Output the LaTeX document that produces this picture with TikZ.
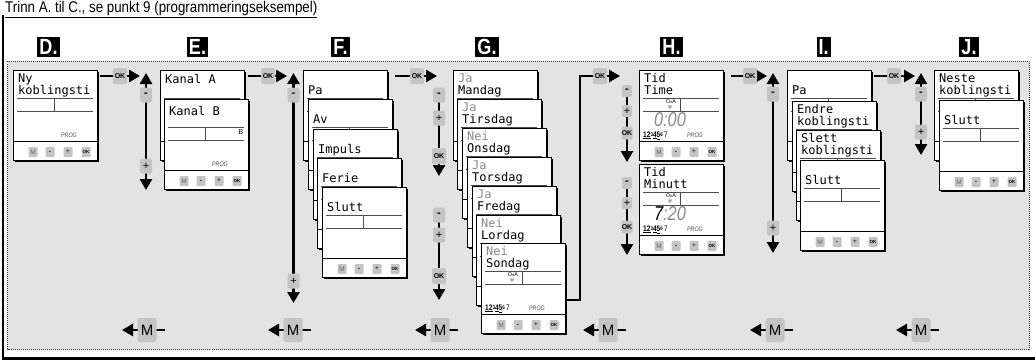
\documentclass[tikz,border=0pt]{standalone}
\usepackage{fontspec}
\setmainfont{Liberation Sans}
\newfontfamily\narrowfont[FakeStretch=0.82]{Liberation Sans}
\newfontfamily\titlefont[FakeStretch=0.86]{Liberation Sans}
\newfontfamily\lcdfont{DejaVu Sans Mono}
\newfontfamily\symfont{DejaVu Sans}
\usepackage{tikz}
\usetikzlibrary{arrows.meta,positioning,calc,shadows}

\definecolor{panelgray}{HTML}{E3E3E3}
\definecolor{keygray}{HTML}{C4C4C4}
\definecolor{dimgray}{HTML}{8A8A8A}

% display: name, left, top
\newcommand{\lcd}[3]{%
  \node[lcdbox] (#1) at (#2,#3) {};
  \draw[lcdrule] ($(#1.north west)+(4,28)$) -- ($(#1.north east)+(-5,28)$);
  \draw[lcdrule] ($(#1.north west)+(4,41)$) -- ($(#1.north east)+(-5,41)$);
  \draw[lcdrule] ($(#1.north west)+(41,28)$) -- ($(#1.north west)+(41,41)$);
  \draw[line width=0.9pt] ($(#1.north west)+(0,71)$) -- ($(#1.north east)+(0,71)$);
}
% keys of the front display
\newcommand{\lcdkeys}[1]{%
  \node[lcdkey,text=black!60] (#1-m) at ($(#1.north west)+(20,82)$) {M};
  \node[lcdkey] (#1-minus) at ($(#1.north west)+(37,82)$) {\textbf{-}};
  \node[lcdkey] (#1-plus) at ($(#1.north west)+(55,82)$) {+};
  \node[lcdkey,font=\fontsize{4.5}{4.5}\selectfont\bfseries] (#1-ok) at ($(#1.north west)+(73,82)$) {OK};
}
\newcommand{\lcdone}[3]{%
  \node[lcdtxt] (#1-a) at ($(#1.north west)+(5,#2)$) {#3};
}
\newcommand{\lcdtwo}[3]{%
  \node[lcdtxt] (#1-a) at ($(#1.north west)+(5,12)$) {#2};
  \node[lcdtxt] (#1-b) at ($(#1.north west)+(5,24)$) {#3};
}
\newcommand{\lcdprog}[1]{%
  \node[inner sep=0pt,font=\narrowfont\itshape\fontsize{6.5}{6.5}\selectfont,text=black!70] (#1-prog) at ($(#1.north west)+(56,65)$) {PROG};
}
\newcommand{\lcddays}[1]{%
  \node[inner sep=0pt,anchor=west,font=\narrowfont\bfseries\fontsize{8}{8}\selectfont] (#1-days) at ($(#1.north west)+(4,65.5)$)
    {\underline{1}\underline{2}\raisebox{1pt}{\fontsize{5.5}{5.5}\selectfont 3}\underline{4}\underline{5}\raisebox{1pt}{\fontsize{5.5}{5.5}\selectfont 6}\,{\mdseries 7}};
}
\newcommand{\lcdsun}[1]{%
  \node[inner sep=0pt,font=\fontsize{5.5}{5.5}\selectfont] (#1-ona) at ($(#1.north west)+(32,32)$) {O{\fontsize{4}{4}\selectfont n}A};
  \node[inner sep=0pt,font=\symfont\fontsize{6}{6}\selectfont] (#1-sun) at ($(#1.north west)+(31,37.5)$) {☼};
}
\newcommand{\mback}[2]{%
  \coordinate (#1-a) at (#2+18,330);
  \coordinate (#1-b) at (#2-25,330);
  \draw[conn,->] (#1-a) -- (#1-b);
  \node[mkey] (#1) at (#2,330) {M};
}

\begin{document}
\begin{tikzpicture}[x=1pt,y=-1pt,>={Triangle[width=12pt,length=11pt]},
  lcdbox/.style={draw,line width=0.8pt,fill=white,anchor=north west,inner sep=0pt,
    minimum width=84pt,minimum height=90pt,
    drop shadow={shadow xshift=1.6pt,shadow yshift=-1.6pt,fill=black,opacity=1}},
  lcdrule/.style={draw=black!70,line width=0.9pt},
  lcdtxt/.style={anchor=base west,inner sep=0pt,font=\lcdfont\fontsize{12}{12}\selectfont},
  lcdkey/.style={fill=keygray,rounded corners=1pt,minimum width=9pt,minimum height=10pt,inner sep=0pt,
    font=\fontsize{6.5}{6.5}\selectfont},
  ctlkey/.style={fill=keygray,rounded corners=2pt,minimum width=12pt,minimum height=15pt,inner sep=0pt,
    font=\fontsize{11}{11}\selectfont},
  okkey/.style={ctlkey,minimum width=14pt,minimum height=16pt,font=\fontsize{7}{7}\selectfont\bfseries},
  mkey/.style={fill=keygray,rounded corners=2.5pt,minimum width=19pt,minimum height=24pt,inner sep=0pt,
    font=\fontsize{15}{15}\selectfont},
  tag/.style={fill=black,text=white,inner sep=2pt,minimum height=20pt,
    font=\narrowfont\bfseries\fontsize{22}{22}\selectfont},
  bigdigits/.style={inner sep=0pt,font=\narrowfont\itshape\fontsize{20}{20}\selectfont},
  conn/.style={line width=2.6pt}]
\useasboundingbox (0,0) rectangle (1035,361);

\node[anchor=base west,inner sep=0pt,font=\titlefont\fontsize{15.5}{15.5}\selectfont] (title) at (5,13)
  {\underline{Trinn A. til C., se punkt 9 (programmeringseksempel)}};
\draw[line width=2pt] (2.5,15) -- (2.5,358.5);
\draw[line width=2.6pt] (1.5,358.5) -- (1035,358.5);
\draw[fill=panelgray,draw=black!80,line width=0.7pt,dash pattern=on 0.8pt off 1.2pt] (7.5,61.5) rectangle (1029.5,349.5);

\node[tag] (tD) at (48.5,47) {D.};
\node[tag] (tE) at (197.5,47) {E.};
\node[tag] (tF) at (340.5,47) {F.};
\node[tag] (tG) at (487,47) {G.};
\node[tag] (tH) at (671.5,47) {H.};
\node[tag] (tI) at (823.5,47) {I.};
\node[tag] (tJ) at (969,47) {J.};

% D
\lcd{d}{13}{70}
\lcdtwo{d}{Ny}{koblingsti}
\lcdprog{d}
\lcdkeys{d}

% E
\lcd{ea}{160}{70}
\lcdone{ea}{13}{Kanal A}
\lcd{eb}{164}{99}
\lcdone{eb}{16}{Kanal B}
\node[inner sep=0pt,font=\fontsize{7}{7}\selectfont] (eb-ch) at ($(eb.north west)+(77,33)$) {B};
\lcdprog{eb}
\lcdkeys{eb}

% F
\lcd{f1}{303}{70}
\lcdone{f1}{24}{Pa}
\lcd{f2}{308}{99}
\lcdone{f2}{24}{Av}
\lcd{f3}{313}{129}
\lcdone{f3}{24}{Impuls}
\lcd{f4}{317}{158}
\lcdone{f4}{24}{Ferie}
\lcd{f5}{322}{187}
\lcdone{f5}{24}{Slutt}
\lcdkeys{f5}

% G
\lcd{g1}{453}{70}
\lcdtwo{g1}{\color{dimgray}Ja}{Mandag}
\lcd{g2}{457}{99}
\lcdtwo{g2}{\color{dimgray}Ja}{Tirsdag}
\lcd{g3}{462}{128}
\lcdtwo{g3}{\color{dimgray}Nei}{Onsdag}
\lcd{g4}{467}{157}
\lcdtwo{g4}{\color{dimgray}Ja}{Torsdag}
\lcd{g5}{472}{186}
\lcdtwo{g5}{\color{dimgray}Ja}{Fredag}
\lcd{g6}{476}{215}
\lcdtwo{g6}{\color{dimgray}Nei}{Lordag}
\lcd{g7}{481}{243}
\lcdtwo{g7}{\color{dimgray}Nei}{Sondag}
\lcdsun{g7}
\lcddays{g7}
\lcdprog{g7}
\lcdkeys{g7}

% H
\lcd{h1}{639}{70}
\lcdtwo{h1}{Tid}{Time}
\lcdsun{h1}
\node[bigdigits,text=dimgray] (h1-time) at ($(h1.north west)+(31,50)$) {0:00};
\lcddays{h1}
\lcdprog{h1}
\lcdkeys{h1}
\lcd{h2}{639}{164}
\lcdtwo{h2}{Tid}{Minutt}
\lcdsun{h2}
\node[bigdigits] (h2-time) at ($(h2.north west)+(31,50)$) {7{\color{dimgray}:20}};
\lcddays{h2}
\lcdprog{h2}
\lcdkeys{h2}

% I
\lcd{i1}{787}{70}
\lcdone{i1}{24}{Pa}
\lcd{i2}{792}{101}
\lcdtwo{i2}{Endre}{koblingsti}
\lcd{i3}{796}{130}
\lcdtwo{i3}{Slett}{koblingsti}
\lcd{i4}{800}{160}
\lcdone{i4}{24}{Slutt}
\lcdkeys{i4}

% J
\lcd{j1}{934}{70}
\lcdtwo{j1}{Neste}{koblingsti}
\lcd{j2}{939}{100}
\lcdone{j2}{24}{Slutt}
\lcdkeys{j2}

% D to E
\coordinate (de-a) at (100,76);
\coordinate (de-b) at (140,76);
\coordinate (de-up) at (146,73);
\coordinate (de-dn) at (146,190);
\draw[conn,->] (de-a) -- (de-b);
\draw[conn,<->] (de-up) -- (de-dn);
\node[okkey] (de-ok) at (120,76) {OK};
\node[ctlkey] (de-minus) at (146,95) {\textbf{-}};
\node[ctlkey] (de-plus) at (146,166) {+};

% E to F
\coordinate (ef-a) at (248,76);
\coordinate (ef-b) at (287,76);
\coordinate (ef-up) at (293.5,73);
\coordinate (ef-dn) at (293.5,303);
\draw[conn,->] (ef-a) -- (ef-b);
\draw[conn,<->] (ef-up) -- (ef-dn);
\node[okkey] (ef-ok) at (268,76) {OK};
\node[ctlkey] (ef-minus) at (293.5,95) {\textbf{-}};
\node[ctlkey] (ef-plus) at (293.5,281) {+};

% F to G
\coordinate (fg-a) at (395,76);
\coordinate (fg-b) at (437,76);
\draw[conn,->] (fg-a) -- (fg-b);
\node[okkey] (fg-ok) at (417,76) {OK};
\coordinate (gs-a) at (439,95);
\coordinate (gs-b) at (439,176);
\draw[conn,->] (gs-a) -- (gs-b);
\node[ctlkey] (gs-minus) at (439,95) {\textbf{-}};
\node[ctlkey] (gs-plus) at (439,118) {+};
\node[okkey] (gs-ok) at (439,156) {OK};
\coordinate (gt-a) at (439,215);
\coordinate (gt-b) at (439,300);
\draw[conn,->] (gt-a) -- (gt-b);
\node[ctlkey] (gt-minus) at (439,215) {\textbf{-}};
\node[ctlkey] (gt-plus) at (439,235) {+};
\node[okkey] (gt-ok) at (439,276) {OK};

% G to H
\coordinate (gh-a) at (567,300);
\coordinate (gh-b) at (620,76);
\draw[conn,->] (gh-a) -- (580,300) -- (580,76) -- (gh-b);
\node[okkey] (gh-ok) at (600,76) {OK};
\coordinate (hs-a) at (627,91);
\coordinate (hs-b) at (627,162);
\draw[conn,->] (hs-a) -- (hs-b);
\node[ctlkey,minimum width=10pt,minimum height=12pt] (hs-minus) at (627,91) {\textbf{-}};
\node[ctlkey,minimum width=10pt,minimum height=12pt] (hs-plus) at (627,111) {+};
\node[okkey,minimum width=11pt,minimum height=13pt] (hs-ok) at (627,133) {OK};
\coordinate (ht-a) at (627,183);
\coordinate (ht-b) at (627,255);
\draw[conn,->] (ht-a) -- (ht-b);
\node[ctlkey,minimum width=10pt,minimum height=12pt] (ht-minus) at (627,183) {\textbf{-}};
\node[ctlkey,minimum width=10pt,minimum height=12pt] (ht-plus) at (627,203) {+};
\node[okkey,minimum width=11pt,minimum height=13pt] (ht-ok) at (627,227) {OK};

% H to I
\coordinate (hi-a) at (731,76);
\coordinate (hi-b) at (767,76);
\coordinate (hi-up) at (773,73);
\coordinate (hi-dn) at (773,253);
\draw[conn,->] (hi-a) -- (hi-b);
\draw[conn,<->] (hi-up) -- (hi-dn);
\node[okkey] (hi-ok) at (750,76) {OK};
\node[ctlkey] (hi-minus) at (773,94) {\textbf{-}};
\node[ctlkey] (hi-plus) at (773,228) {+};

% I to J
\coordinate (ij-a) at (874,76);
\coordinate (ij-b) at (915,76);
\coordinate (ij-up) at (921,73);
\coordinate (ij-dn) at (921,155);
\draw[conn,->] (ij-a) -- (ij-b);
\draw[conn,<->] (ij-up) -- (ij-dn);
\node[okkey] (ij-ok) at (894,76) {OK};
\node[ctlkey] (ij-minus) at (921,94) {\textbf{-}};
\node[ctlkey] (ij-plus) at (921,132) {+};

% back with M
\mback{md}{147}
\mback{me}{293}
\mback{mf}{440}
\mback{mg}{608}
\mback{mh}{775}
\mback{mi}{921}
\end{tikzpicture}
\end{document}
